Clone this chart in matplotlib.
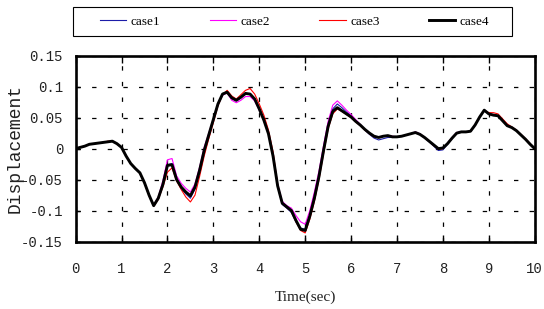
import matplotlib
matplotlib.use("Agg")
import matplotlib.pyplot as plt
from matplotlib.patches import Rectangle
import numpy as np

# time axis, 0.1 s steps
time = np.round(np.arange(0, 10.01, 0.1), 1)

case4 = [0.000, 0.002, 0.004, 0.007, 0.008, 0.009, 0.010, 0.011, 0.012, 0.008,
         0.002, -0.012, -0.024, -0.032, -0.039, -0.055, -0.075, -0.092, -0.080, -0.058,
         -0.027, -0.026, -0.050, -0.062, -0.070, -0.076, -0.062, -0.035, -0.003, 0.022,
         0.047, 0.072, 0.088, 0.091, 0.082, 0.078, 0.083, 0.089, 0.088, 0.080,
         0.064, 0.046, 0.024, -0.012, -0.060, -0.088, -0.094, -0.100, -0.116, -0.130,
         -0.132, -0.109, -0.080, -0.045, -0.003, 0.036, 0.060, 0.066, 0.061, 0.056,
         0.051, 0.044, 0.038, 0.031, 0.025, 0.020, 0.018, 0.020, 0.021, 0.019,
         0.019, 0.020, 0.022, 0.024, 0.026, 0.023, 0.018, 0.012, 0.006, 0.000,
         0.001, 0.008, 0.017, 0.025, 0.027, 0.027, 0.028, 0.038, 0.051, 0.062,
         0.056, 0.054, 0.053, 0.045, 0.037, 0.034, 0.029, 0.022, 0.015, 0.007,
         0.000]

case1 = [0.000, 0.002, 0.004, 0.007, 0.008, 0.009, 0.010, 0.011, 0.012, 0.008,
         0.002, -0.012, -0.024, -0.032, -0.039, -0.055, -0.075, -0.092, -0.080, -0.057,
         -0.026, -0.024, -0.050, -0.064, -0.073, -0.080, -0.065, -0.036, -0.004, 0.021,
         0.046, 0.071, 0.087, 0.092, 0.081, 0.077, 0.082, 0.088, 0.088, 0.080,
         0.064, 0.046, 0.024, -0.012, -0.061, -0.090, -0.096, -0.103, -0.118, -0.128,
         -0.130, -0.106, -0.077, -0.042, 0.000, 0.040, 0.064, 0.072, 0.066, 0.059,
         0.053, 0.045, 0.038, 0.030, 0.023, 0.017, 0.014, 0.016, 0.018, 0.018,
         0.019, 0.020, 0.022, 0.024, 0.026, 0.023, 0.017, 0.011, 0.004, -0.003,
         -0.002, 0.007, 0.016, 0.025, 0.027, 0.027, 0.028, 0.038, 0.051, 0.062,
         0.056, 0.054, 0.053, 0.045, 0.037, 0.034, 0.029, 0.022, 0.015, 0.007,
         0.000]

case2 = [0.000, 0.002, 0.004, 0.007, 0.008, 0.009, 0.010, 0.011, 0.012, 0.008,
         0.002, -0.012, -0.024, -0.032, -0.039, -0.055, -0.075, -0.091, -0.078, -0.052,
         -0.018, -0.016, -0.044, -0.056, -0.064, -0.070, -0.057, -0.030, 0.002, 0.025,
         0.048, 0.071, 0.086, 0.090, 0.078, 0.074, 0.078, 0.084, 0.084, 0.077,
         0.062, 0.045, 0.024, -0.010, -0.057, -0.085, -0.092, -0.096, -0.108, -0.118,
         -0.122, -0.100, -0.070, -0.036, 0.005, 0.044, 0.070, 0.077, 0.070, 0.062,
         0.055, 0.047, 0.039, 0.031, 0.025, 0.020, 0.019, 0.020, 0.021, 0.020,
         0.019, 0.020, 0.022, 0.024, 0.027, 0.024, 0.018, 0.012, 0.006, 0.000,
         0.001, 0.009, 0.018, 0.026, 0.027, 0.027, 0.028, 0.038, 0.051, 0.062,
         0.056, 0.055, 0.053, 0.046, 0.038, 0.034, 0.029, 0.022, 0.015, 0.007,
         0.000]

case3 = [0.000, 0.002, 0.004, 0.007, 0.008, 0.009, 0.010, 0.012, 0.012, 0.008,
         0.002, -0.012, -0.024, -0.032, -0.040, -0.056, -0.076, -0.093, -0.082, -0.062,
         -0.038, -0.031, -0.052, -0.066, -0.078, -0.086, -0.075, -0.045, -0.012, 0.016,
         0.042, 0.069, 0.087, 0.094, 0.085, 0.080, 0.087, 0.094, 0.097, 0.088,
         0.072, 0.054, 0.030, -0.005, -0.058, -0.088, -0.095, -0.101, -0.118, -0.132,
         -0.136, -0.114, -0.085, -0.050, -0.008, 0.032, 0.056, 0.064, 0.060, 0.055,
         0.050, 0.043, 0.037, 0.030, 0.024, 0.019, 0.018, 0.020, 0.021, 0.019,
         0.019, 0.020, 0.022, 0.024, 0.026, 0.023, 0.018, 0.012, 0.005, -0.001,
         0.000, 0.008, 0.017, 0.025, 0.027, 0.027, 0.028, 0.038, 0.051, 0.062,
         0.058, 0.058, 0.056, 0.048, 0.040, 0.035, 0.030, 0.023, 0.016, 0.008,
         0.000]

series = ["case1", "case2", "case3", "case4"]
colors = ["#1c1ca8", "#ff00ff", "#ff0000", "#000000"]
widths = [0.8, 0.8, 0.8, 2.1]

yticks = [-0.15, -0.1, -0.05, 0, 0.05, 0.1, 0.15]
ytick_labels = ["-0.15", "-0.1", "-0.05", "0", "0.05", "0.1", "0.15"]
xticks = list(range(0, 11))

W, H = 544, 309
fig = plt.figure(figsize=(W / 100, H / 100), dpi=100)
ax = fig.add_axes([0.139, 0.218, 0.844, 0.602])

for name, vals, c, lw in zip(series, [case1, case2, case3, case4], colors, widths):
    ax.plot(time, vals, color=c, lw=lw, label=name)

ax.set_xlim(0, 10)
ax.set_ylim(-0.15, 0.15)
ax.set_xticks(xticks)
ax.set_yticks(yticks)
ax.set_yticklabels(ytick_labels)

mono = "Liberation Mono"
for lab in ax.get_xticklabels() + ax.get_yticklabels():
    lab.set_fontfamily(mono)
    lab.set_fontsize(10)
    lab.set_color("#222222")

ax.tick_params(axis="x", direction="in", length=5, width=1, top=True, pad=15)
ax.tick_params(axis="y", direction="in", length=3, width=1, pad=9)

ax.grid(True, color="black", lw=0.9, linestyle=(0, (3.5, 9)))

for sp in ax.spines.values():
    sp.set_linewidth(1.9)

ax.set_ylabel("Displacement", family=mono, fontsize=13, color="#222222")
ax.yaxis.set_label_coords(-0.114, 0.5)
ax.set_xlabel("Time(sec)", family="Liberation Serif", fontsize=11, color="#222222", labelpad=10)

# legend box drawn separately so the padding matches
fig.patches.append(Rectangle((73 / W, 1 - 36 / H), 439 / W, 29 / H, transform=fig.transFigure,
                             fill=False, edgecolor="black", lw=0.8))
fig.legend(loc="center", bbox_to_anchor=(294.5 / W, 1 - 21.5 / H), ncol=4, frameon=False,
           prop={"family": "Liberation Serif", "size": 9.5}, handlelength=2.0,
           handletextpad=0.35, columnspacing=3.72, borderpad=0)

fig.savefig("out.png", dpi=100)
